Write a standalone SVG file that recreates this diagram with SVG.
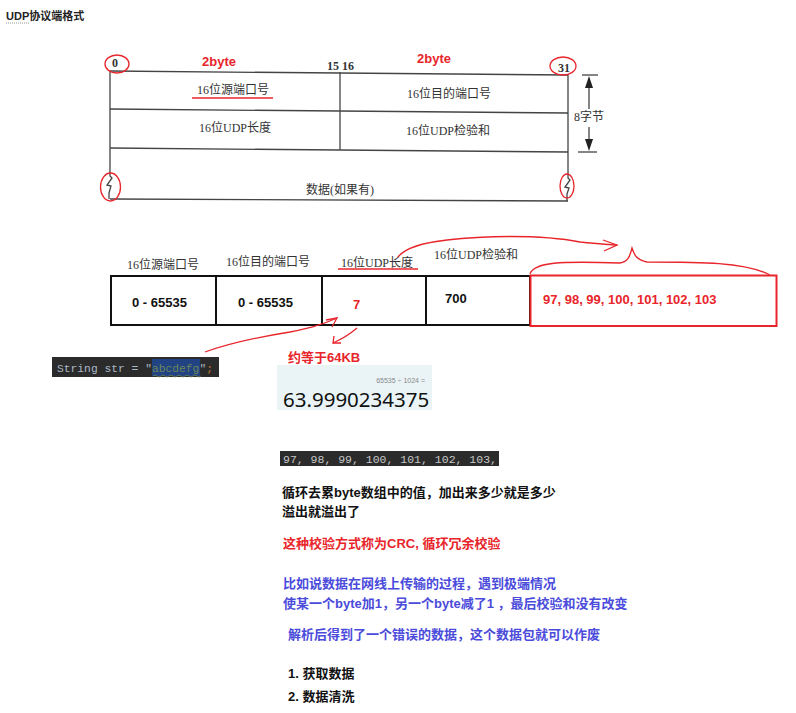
<svg xmlns="http://www.w3.org/2000/svg" width="796" height="713" viewBox="0 0 796 713">
<style>
.ser{font-family:"Liberation Serif","Noto Sans CJK SC",serif;font-size:12px;fill:#333}
.bold{font-family:"Liberation Sans","Noto Sans CJK SC",sans-serif;font-weight:bold;font-size:13px}
.red{fill:#e8252b}
.blue{fill:#4b4bdb}
.blk{fill:#111}
.tl{stroke:#444;stroke-width:1.3;fill:none}
.cell{stroke:#111;stroke-width:2;fill:none}
.rs{stroke:#e8252b;stroke-width:1.3;fill:none}
.mono{font-family:"Liberation Mono","DejaVu Sans Mono",monospace}
</style>
<rect width="796" height="713" fill="#fff"/>

<g id="title">
<text x="6" y="20" font-family="Liberation Sans,Noto Sans CJK SC,sans-serif" font-weight="bold" font-size="11" fill="#222">UDP协议端格式</text>
<line x1="6" y1="23" x2="29" y2="23" stroke="#999" stroke-width="1" stroke-dasharray="1,1"/>
</g>

<g id="udp-header-table">
<line class="tl" x1="110" y1="71" x2="568" y2="75"/>
<line class="tl" x1="110" y1="109" x2="568" y2="113"/>
<line class="tl" x1="110" y1="148" x2="568" y2="152"/>
<line class="tl" x1="110" y1="199" x2="568" y2="201"/>
<line class="tl" x1="340" y1="72" x2="340" y2="150"/>
<path class="tl" d="M110,71 V176 L112,178 L107,185 L111,186 L109,193 V199"/>
<path class="tl" d="M568,75 V178 L570,180 L565,187 L569,188 L567,194 V201"/>
<text class="ser" x="112" y="67" font-weight="bold" font-size="10" font-family="Liberation Sans,sans-serif">0</text>
<text class="ser" x="327" y="70" font-weight="bold" font-size="10" font-family="Liberation Sans,sans-serif">15 16</text>
<text class="ser" x="558" y="72" font-weight="bold" font-size="10" font-family="Liberation Sans,sans-serif">31</text>
<text class="ser" x="233" y="94" text-anchor="middle">16位源端口号</text>
<text class="ser" x="449" y="98" text-anchor="middle">16位目的端口号</text>
<text class="ser" x="235" y="132" text-anchor="middle">16位UDP长度</text>
<text class="ser" x="448" y="135" text-anchor="middle">16位UDP检验和</text>
<text class="ser" x="340" y="194" text-anchor="middle">数据(如果有)</text>
<line class="tl" x1="582" y1="75" x2="598" y2="75"/>
<line class="tl" x1="578" y1="152" x2="597" y2="152"/>
<line class="tl" x1="589" y1="80" x2="589" y2="109"/>
<line class="tl" x1="589" y1="127" x2="589" y2="148"/>
<path d="M589,76 L585,88 L593,88 Z" fill="#222"/>
<path d="M589,151 L585,139 L593,139 Z" fill="#222"/>
<text class="ser" x="589" y="121" text-anchor="middle">8字节</text>
</g>

<g id="header-annotations">
<ellipse class="rs" cx="117" cy="64" rx="12" ry="9"/>
<ellipse class="rs" cx="563" cy="66" rx="13" ry="9"/>
<ellipse class="rs" cx="110.5" cy="187" rx="10" ry="14"/>
<ellipse class="rs" cx="567" cy="186" rx="7" ry="12"/>
<line class="rs" x1="192" y1="98" x2="273" y2="98"/>
<text class="bold red" x="202" y="66" font-size="12">2byte</text>
<text class="bold red" x="417" y="63" font-size="12">2byte</text>
</g>

<g id="field-labels">
<text class="ser" x="163" y="269" text-anchor="middle">16位源端口号</text>
<text class="ser" x="268" y="266" text-anchor="middle">16位目的端口号</text>
<text class="ser" x="377" y="267" text-anchor="middle">16位UDP长度</text>
<text class="ser" x="476" y="259" text-anchor="middle">16位UDP检验和</text>
<line class="rs" x1="338" y1="269" x2="418" y2="269"/>
</g>

<g id="cell-src"><rect class="cell" x="111" y="276" width="105" height="49"/><text class="bold blk" x="132" y="307">0 - 65535</text></g>
<g id="cell-dst"><rect class="cell" x="216" y="276" width="106" height="49"/><text class="bold blk" x="238" y="307">0 - 65535</text></g>
<g id="cell-len"><rect class="cell" x="322" y="276" width="104" height="49"/><text class="bold red" x="353" y="309" font-size="14">7</text></g>
<g id="cell-sum"><rect class="cell" x="426" y="276" width="104" height="49"/><text class="bold blk" x="445" y="303">700</text></g>
<g id="cell-data"><rect x="530.5" y="275.5" width="246" height="50.5" fill="none" stroke="#e8252b" stroke-width="2"/><text class="bold red" x="543" y="304">97, 98, 99, 100, 101, 102, 103</text></g>

<g id="connectors">
<path class="rs" d="M398,257 C405,248 420,243 447,240 C480,236 540,234 580,242 C600,244 610,245 617,245"/>
<path class="rs" d="M603,240 L617,245 L604,251"/>
<path class="rs" d="M530,274 C534,262 560,261 620,263 C628,262 630,256 632,248 C634,254 636,260 647,262 C700,262 745,262 770,275"/>
<path class="rs" d="M205,352 C230,343 265,336 290,332 C305,329 320,326 337,318"/>
<path class="rs" d="M326,320 L337,318 L332,327"/>
<path class="rs" d="M357,328 C350,334 342,339 333,343"/>
<path class="rs" d="M334,336 L333,343 L341,343"/>
</g>

<g id="approx-label"><text class="bold red" x="288" y="362">约等于64KB</text></g>

<g id="calc">
<rect x="277" y="365" width="155" height="45" fill="#eaf4f7"/>
<text x="425" y="383" text-anchor="end" font-family="Liberation Sans,sans-serif" font-size="7" fill="#888">65535 ÷ 1024 =</text>
<text x="283" y="407" font-family="Noto Sans,sans-serif" font-size="20.5" fill="#111">63.9990234375</text>
</g>

<g id="code-str">
<rect x="52" y="357" width="167" height="20" fill="#2b2b2b"/>
<rect x="152" y="359" width="48" height="17" fill="#214283"/>
<text class="mono" x="57" y="372" font-size="11.3" fill="#a9b7c6">String str = "<tspan fill="#6a8759">abcdefg</tspan>"<tspan fill="#cc7832">;</tspan></text>
<path d="M153,376 q2,-2 4,0 t4,0 t4,0 t4,0 t4,0 t4,0 t4,0 t4,0 t4,0 t4,0 t4,0 t4,0" stroke="#6a8759" stroke-width="0.8" fill="none"/>
</g>

<g id="code-bytes">
<rect x="280" y="451" width="219" height="15" fill="#2b2b2b"/>
<text class="mono" x="283" y="462.5" font-size="11.5" fill="#c8c8c8">97, 98, 99, 100, 101, 102, 103,</text>
</g>

<g id="notes">
<text class="bold blk" x="282" y="497" font-size="12.3">循环去累byte数组中的值，加出来多少就是多少</text>
<text class="bold blk" x="282" y="516" font-size="12.3">溢出就溢出了</text>
<text class="bold red" x="283" y="548" font-size="12.6">这种校验方式称为CRC, 循环冗余校验</text>
<text class="bold blue" x="283" y="588" font-size="12.8">比如说数据在网线上传输的过程，遇到极端情况</text>
<text class="bold blue" x="283" y="608" font-size="12.8">使某一个byte加1，另一个byte减了1 ，最后校验和没有改变</text>
<text class="bold blue" x="288" y="639" font-size="12.8">解析后得到了一个错误的数据，这个数据包就可以作废</text>
<text class="bold blk" x="288" y="678" font-size="12.6">1. 获取数据</text>
<text class="bold blk" x="288" y="701" font-size="12.6">2. 数据清洗</text>
</g>
</svg>
